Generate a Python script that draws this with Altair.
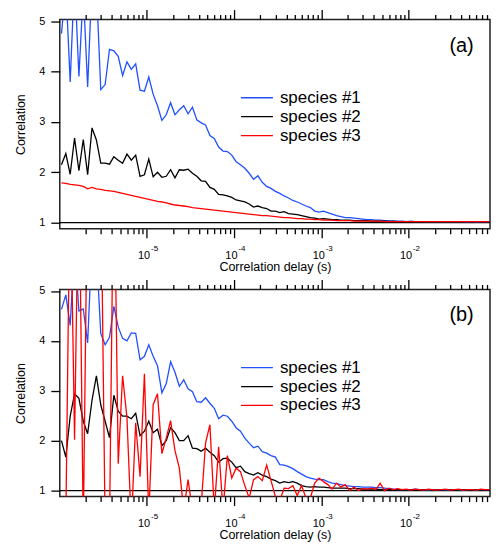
import altair as alt
import pandas as pd

FONT = "Liberation Sans"

# sampling grid of the correlator (delay in seconds)
MANTISSA = [1.06, 1.189, 1.334, 1.497, 1.679, 1.884, 2.114, 2.372, 2.662, 2.987,
            3.352, 3.761, 4.220, 4.735, 5.313, 5.961, 6.688, 7.504, 8.420, 9.447]
DECADES = [1e-6, 1e-5, 1e-4, 1e-3, 1e-2]
N_POINTS = 99
delays = [m * d for d in DECADES for m in MANTISSA][:N_POINTS]

SPECIES = ["species #1", "species #2", "species #3"]
COLORS = ["#2050ff", "#000000", "#ff0000"]

# panel (a)
a_sp1 = [4.75, 5.7, 3.79, 5.9, 3.90, 5.6, 3.69, 5.8, 5.7, 3.64,
         3.74, 4.44, 4.41, 4.30, 3.92, 4.19, 4.04, 4.15, 3.63, 3.61,
         3.89, 3.55, 3.32, 3.03, 3.14, 3.38, 3.14, 3.24, 3.32, 3.16,
         3.29, 3.04, 2.98, 2.94, 2.73, 2.67, 2.50, 2.42, 2.41, 2.34,
         2.21, 2.15, 2.08, 1.98, 1.86, 1.93, 1.80, 1.72, 1.68, 1.62,
         1.58, 1.53, 1.49, 1.44, 1.41, 1.37, 1.33, 1.30, 1.23, 1.21,
         1.23, 1.20, 1.17, 1.14, 1.12, 1.10, 1.10, 1.09, 1.08, 1.07,
         1.06, 1.06, 1.05, 1.05, 1.04, 1.04, 1.03, 1.03, 1.03, 1.02,
         1.03, 1.02, 1.02, 1.02, 1.02, 1.01, 1.02, 1.02, 1.01, 1.02,
         1.02, 1.01, 1.02, 1.01, 1.02, 1.01, 1.02, 1.01, 1.02]
a_sp2 = [2.15, 2.37, 1.96, 2.68, 2.03, 2.65, 1.95, 2.88, 2.64, 2.18,
         2.18, 2.16, 2.31, 2.24, 2.18, 2.36, 2.24, 2.34, 1.92, 1.95,
         2.26, 1.91, 2.00, 1.90, 1.92, 2.05, 1.89, 2.05, 2.04, 2.06,
         1.98, 1.92, 1.83, 1.82, 1.70, 1.66, 1.56, 1.55, 1.53, 1.50,
         1.45, 1.43, 1.41, 1.37, 1.31, 1.33, 1.30, 1.28, 1.23, 1.23,
         1.20, 1.22, 1.18, 1.17, 1.16, 1.14, 1.12, 1.10, 1.09, 1.07,
         1.08, 1.07, 1.06, 1.06, 1.05, 1.05, 1.05, 1.04, 1.04, 1.04,
         1.04, 1.03, 1.03, 1.03, 1.03, 1.02, 1.03, 1.02, 1.02, 1.02,
         1.02, 1.02, 1.01, 1.02, 1.02, 1.01, 1.02, 1.02, 1.01, 1.02,
         1.02, 1.01, 1.02, 1.02, 1.01, 1.02, 1.02, 1.01, 1.02]
a_sp3 = [1.79, 1.78, 1.76, 1.75, 1.74, 1.72, 1.67, 1.70, 1.67, 1.66,
         1.64, 1.63, 1.62, 1.60, 1.58, 1.56, 1.54, 1.52, 1.50, 1.48,
         1.46, 1.44, 1.42, 1.41, 1.39, 1.37, 1.35, 1.34, 1.33, 1.32,
         1.30, 1.29, 1.28, 1.27, 1.26, 1.25, 1.24, 1.23, 1.22, 1.21,
         1.20, 1.19, 1.18, 1.17, 1.16, 1.15, 1.14, 1.14, 1.13, 1.12,
         1.11, 1.10, 1.10, 1.09, 1.08, 1.08, 1.07, 1.07, 1.06, 1.06,
         1.05, 1.05, 1.05, 1.04, 1.04, 1.04, 1.04, 1.03, 1.03, 1.03,
         1.03, 1.03, 1.03, 1.03, 1.02, 1.02, 1.02, 1.02, 1.02, 1.02,
         1.02, 1.02, 1.02, 1.02, 1.02, 1.02, 1.02, 1.02, 1.02, 1.02,
         1.02, 1.02, 1.02, 1.02, 1.02, 1.02, 1.02, 1.02, 1.02]

# panel (b)
b_sp1 = [4.63, 4.92, 4.31, 5.9, 4.60, 4.64, 3.96, 6.0, 5.8, 4.15,
         3.92, 4.07, 4.69, 4.28, 4.05, 4.00, 4.16, 4.15, 3.62, 3.69,
         3.92, 3.69, 3.50, 2.96, 3.14, 3.58, 3.37, 3.09, 3.22, 3.04,
         2.98, 2.78, 2.77, 2.86, 2.75, 2.65, 2.44, 2.51, 2.49, 2.39,
         2.26, 2.19, 2.05, 1.95, 1.86, 1.89, 1.78, 1.75, 1.70, 1.67,
         1.52, 1.51, 1.48, 1.44, 1.38, 1.33, 1.28, 1.25, 1.23, 1.22,
         1.22, 1.18, 1.15, 1.14, 1.12, 1.10, 1.09, 1.08, 1.08, 1.07,
         1.07, 1.07, 1.06, 1.06, 1.05, 1.04, 1.03, 1.02, 1.02, 1.02,
         1.02, 1.03, 1.02, 1.02, 1.01, 1.02, 1.02, 1.02, 1.01, 1.02,
         1.02, 1.02, 1.01, 1.02, 1.02, 1.01, 1.02, 1.02, 1.02]
b_sp2 = [2.00, 1.67, 2.49, 2.94, 2.85, 2.39, 2.14, 2.81, 3.30, 2.72,
         2.39, 2.06, 2.91, 2.59, 2.49, 2.49, 2.44, 2.55, 2.10, 2.19,
         2.39, 2.16, 2.23, 1.90, 2.00, 2.26, 2.16, 2.00, 2.00, 2.10,
         1.85, 1.84, 1.79, 1.85, 1.77, 1.70, 1.57, 1.64, 1.65, 1.57,
         1.46, 1.49, 1.38, 1.34, 1.31, 1.36, 1.31, 1.28, 1.23, 1.20,
         1.15, 1.18, 1.16, 1.18, 1.15, 1.10, 1.08, 1.07, 1.08, 1.07,
         1.07, 1.06, 1.05, 1.05, 1.05, 1.05, 1.04, 1.04, 1.04, 1.03,
         1.03, 1.03, 1.03, 1.02, 1.02, 1.02, 1.02, 1.02, 1.02, 1.02,
         1.02, 1.02, 1.01, 1.02, 1.02, 1.02, 1.01, 1.02, 1.02, 1.02,
         1.01, 1.02, 1.02, 1.02, 1.01, 1.02, 1.02, 1.02, 1.02]
b_sp3 = [0.3, 0.4, 7.5, 2.02, 7.8, 0.2, 7.6, 8.0, 7.8, 7.5,
         0.3, 0.2, 8.0, 1.54, 3.30, 2.46, 0.3, 2.36, 1.28, 3.34,
         0.5, 2.72, 2.94, 1.74, 2.05, 2.40, 1.80, 1.45, 0.6, 1.22,
         0.6, 0.5, 0.7, 1.95, 2.32, 0.6, 1.88, 0.6, 1.70, 1.25,
         1.45, 1.38, 1.10, 0.85, 1.22, 1.28, 1.20, 1.51, 1.20, 0.88,
         0.80, 1.05, 1.04, 1.10, 0.90, 1.10, 0.85, 0.85, 1.15, 1.25,
         1.18, 1.12, 1.03, 1.15, 1.07, 1.12, 1.00, 1.07, 1.00, 1.04,
         1.03, 1.05, 1.02, 1.15, 1.00, 1.05, 1.02, 1.04, 1.02, 1.03,
         1.01, 1.03, 1.02, 1.01, 1.03, 1.02, 1.01, 1.02, 1.03, 1.01,
         1.02, 1.03, 1.01, 1.02, 1.02, 1.01, 1.03, 1.02, 1.02]

MAJOR_TICKS = [1e-5, 1e-4, 1e-3, 1e-2]
MINOR_MULT = [2, 3, 4, 5, 6, 7, 8, 9]
X_DOMAIN = [1.014e-6, 0.0857]
MINOR_TICKS = [k * d for d in DECADES for k in MINOR_MULT if k * d < X_DOMAIN[1]]
Y_TICKS = [1, 2, 3, 4, 5]
Y_DOMAIN = [0.88, 5.03]
BASELINE = [1.0]
X_TITLE = "Correlation delay (s)"
Y_TITLE = "Correlation"

COMMON = dict(grid=False, domain=False, tickColor="black", tickWidth=1.3,
              labelColor="black", titleColor="black")


def panel(series, tag, tag_x, tag_y, height):
    df = pd.DataFrame({
        "delay": delays * 3,
        "corr": series[0] + series[1] + series[2],
        "species": [s for s in SPECIES for _ in range(N_POINTS)],
    })
    xs = alt.Scale(type="log", domain=X_DOMAIN, nice=False)
    ys = alt.Scale(domain=Y_DOMAIN, nice=False, zero=False)

    ax_bottom = alt.Axis(orient="bottom", values=MAJOR_TICKS, tickSize=9,
                         labelExpr="'10'", labelFontSize=11, labelPadding=12,
                         labelOffset=-3, labelFlush=False, labelOverlap=False, **COMMON)
    ax_bottom_minor = alt.Axis(orient="bottom", values=MINOR_TICKS, tickSize=5,
                               labels=False, **COMMON)
    ax_bottom_exp = alt.Axis(orient="bottom", values=MAJOR_TICKS, tickSize=9,
                             tickOpacity=0,
                             labelExpr="'' + round(log(datum.value) / LN10)",
                             labelFontSize=8, labelPadding=7, labelOffset=7.5,
                             labelFlush=False, labelOverlap=False,
                             titleFontSize=12.5, titlePadding=8,
                             titleFontWeight="normal", **COMMON)
    ax_top = alt.Axis(orient="top", values=MAJOR_TICKS, tickSize=10,
                      labels=False, **COMMON)
    ax_top_minor = alt.Axis(orient="top", values=MINOR_TICKS, tickSize=5,
                            labels=False, **COMMON)
    ax_left = alt.Axis(orient="left", values=Y_TICKS, format="d", tickSize=9,
                       labelFontSize=11, labelPadding=6, titleFontSize=12.5,
                       titlePadding=11, titleFontWeight="normal", **COMMON)

    lines = alt.Chart(df).mark_line(strokeWidth=1.3, clip=True).encode(
        x=alt.X("delay:Q", scale=xs, axis=ax_bottom, title=None),
        y=alt.Y("corr:Q", scale=ys, axis=ax_left, title=Y_TITLE),
        color=alt.Color("species:N",
                        scale=alt.Scale(domain=SPECIES, range=COLORS),
                        legend=alt.Legend(orient="none", legendX=181, legendY=69,
                                          title=None, symbolType="stroke",
                                          symbolSize=1024, symbolStrokeWidth=1.3,
                                          clipHeight=19, rowPadding=0,
                                          labelFontSize=17, labelOffset=6,
                                          labelColor="black", padding=0)),
    )

    def ghost(xaxis, xtitle=None):
        return alt.Chart(df).mark_point(opacity=0, size=1, clip=True).encode(
            x=alt.X("delay:Q", scale=xs, axis=xaxis, title=xtitle),
            y=alt.Y("corr:Q", scale=ys, axis=None),
        )

    g1 = ghost(ax_bottom_minor)
    g2 = ghost(ax_bottom_exp, X_TITLE)
    g3 = ghost(ax_top)
    g4 = ghost(ax_top_minor)

    rule = alt.Chart(pd.DataFrame({"corr": BASELINE})).mark_rule(
        color="black", strokeWidth=1.2).encode(
        y=alt.Y("corr:Q", scale=ys, axis=None))

    label = alt.Chart(pd.DataFrame({"delay": [tag_x], "corr": [tag_y],
                                    "tag": [tag]})).mark_text(
        fontSize=20, align="center", baseline="middle", color="black").encode(
        x=alt.X("delay:Q", scale=xs, axis=None),
        y=alt.Y("corr:Q", scale=ys, axis=None),
        text="tag:N")

    return alt.layer(rule, lines, g1, g2, g3, g4, label).resolve_axis(
        x="independent", y="independent").properties(width=432, height=height)


top = panel([a_sp1, a_sp2, a_sp3], "(a)", 0.0405, 4.50, 210)
bottom = panel([b_sp1, b_sp2, b_sp3], "(b)", 0.0405, 4.52, 208)

chart = alt.vconcat(top, bottom, spacing=3).resolve_legend(
    color="independent").properties(
    padding={"left": 6, "top": -1.5, "right": 0, "bottom": 0}
).configure(font=FONT).configure_view(stroke="#222222", strokeWidth=1.5)

chart.save("out.html", embed_options={"renderer": "svg", "actions": False})
